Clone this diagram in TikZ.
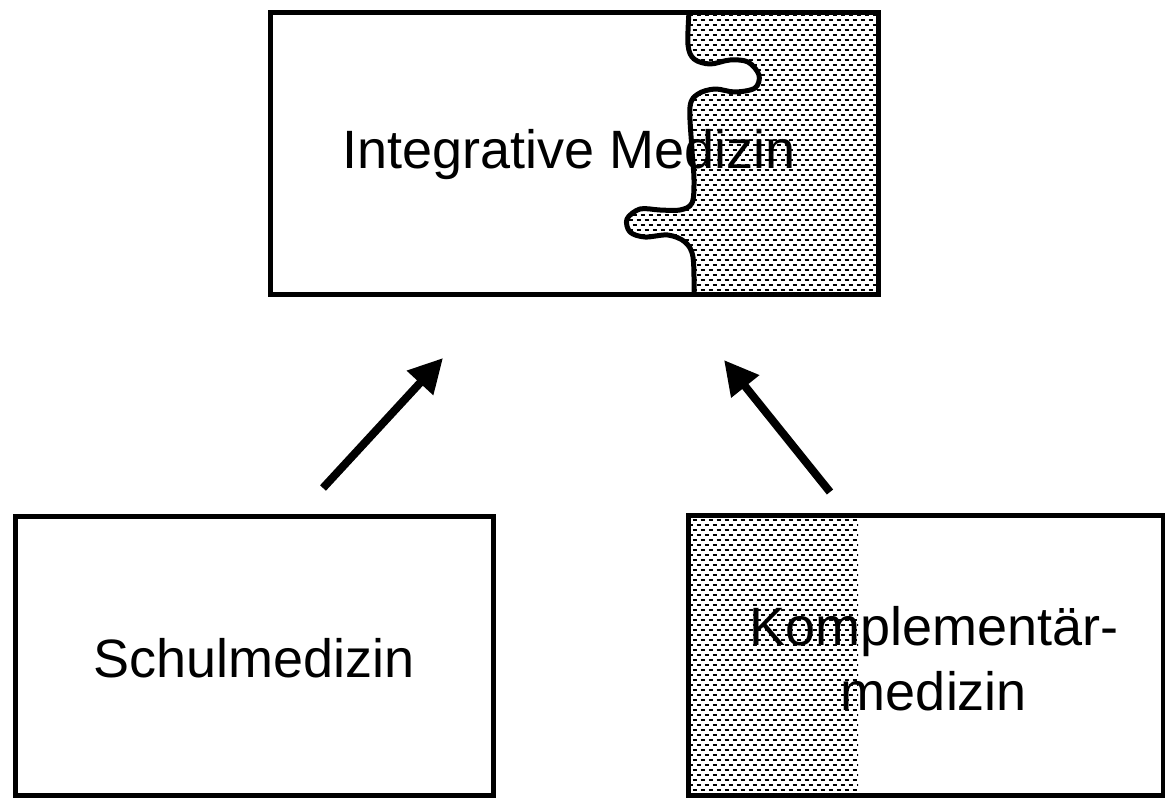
\documentclass[tikz,border=0pt]{standalone}
\usepackage{fontspec}
\setmainfont{Liberation Sans}
\usetikzlibrary{patterns,arrows.meta}
\pgfdeclarepatternformonly{dashfield}{\pgfpoint{-1pt}{-1pt}}{\pgfpoint{9pt}{11pt}}{\pgfpoint{8pt}{10pt}}{%
  \pgfsetlinewidth{2pt}%
  \pgfpathmoveto{\pgfpoint{0.5pt}{2.5pt}}\pgfpathlineto{\pgfpoint{4.5pt}{2.5pt}}%
  \pgfpathmoveto{\pgfpoint{4.5pt}{7.5pt}}\pgfpathlineto{\pgfpoint{8pt}{7.5pt}}%
  \pgfpathmoveto{\pgfpoint{0pt}{7.5pt}}\pgfpathlineto{\pgfpoint{0.5pt}{7.5pt}}%
  \pgfusepath{stroke}}
\tikzset{
  box/.style={draw, line width=5pt, rectangle, inner sep=0pt},
  lbl/.style={anchor=base, inner sep=0pt, font=\fontsize{54}{65}\selectfont},
  shade/.style={pattern=dashfield, pattern color=black},
  bigarrow/.style={line width=8pt, -{Triangle[length=34pt,width=34pt]}},
  puzzle/.style={line width=5pt, line join=round}
}
\begin{document}
\begin{tikzpicture}[x=1pt,y=-1pt]
\useasboundingbox (0,0) rectangle (1165,798);
% shaded part of the top box (puzzle piece)
\fill[shade] plot[smooth, tension=0.55] coordinates {
 (689,12) (688,45) (694,59) (710,64) (730,60) (748,62) (759,75) (755,88) (735,92) (715,89) (698,94) (690,107)
 (692,150) (694,180) (692,203) (680,210) (660,210) (640,209) (627,219) (630,232) (645,237) (668,235) (685,242) (693,257) (694,294)}
 -- (878,294) -- (878,12) -- cycle;
% shaded part of the bottom-right box
\fill[shade] (688,515) rectangle (858,795);
% boxes
\node[box, minimum width=608pt, minimum height=282pt] (top) at (574,153) {};
\node[box, minimum width=478pt, minimum height=279pt] (schul) at (254,655.5) {};
\node[box, minimum width=475pt, minimum height=280pt] (komp) at (925.5,655) {};
% puzzle line
\draw[puzzle] plot[smooth, tension=0.55] coordinates {
 (689,12) (688,45) (694,59) (710,64) (730,60) (748,62) (759,75) (755,88) (735,92) (715,89) (698,94) (690,107)
 (692,150) (694,180) (692,203) (680,210) (660,210) (640,209) (627,219) (630,232) (645,237) (668,235) (685,242) (693,257) (694,294)};
% labels
\node[lbl] (ltop) at (569,168) {Integrative Medizin};
\node[lbl] (lschul) at (254,677) {Schulmedizin};
\node[lbl] (lkomp1) at (934,645) {Komplementär-};
\node[lbl] (lkomp2) at (934,710) {medizin};
% arrows
\coordinate (a1s) at (323,488);
\coordinate (a1e) at (443,358);
\coordinate (a2s) at (830,492);
\coordinate (a2e) at (724,360);
\draw[bigarrow] (a1s) -- (a1e);
\draw[bigarrow] (a2s) -- (a2e);
\end{tikzpicture}
\end{document}
